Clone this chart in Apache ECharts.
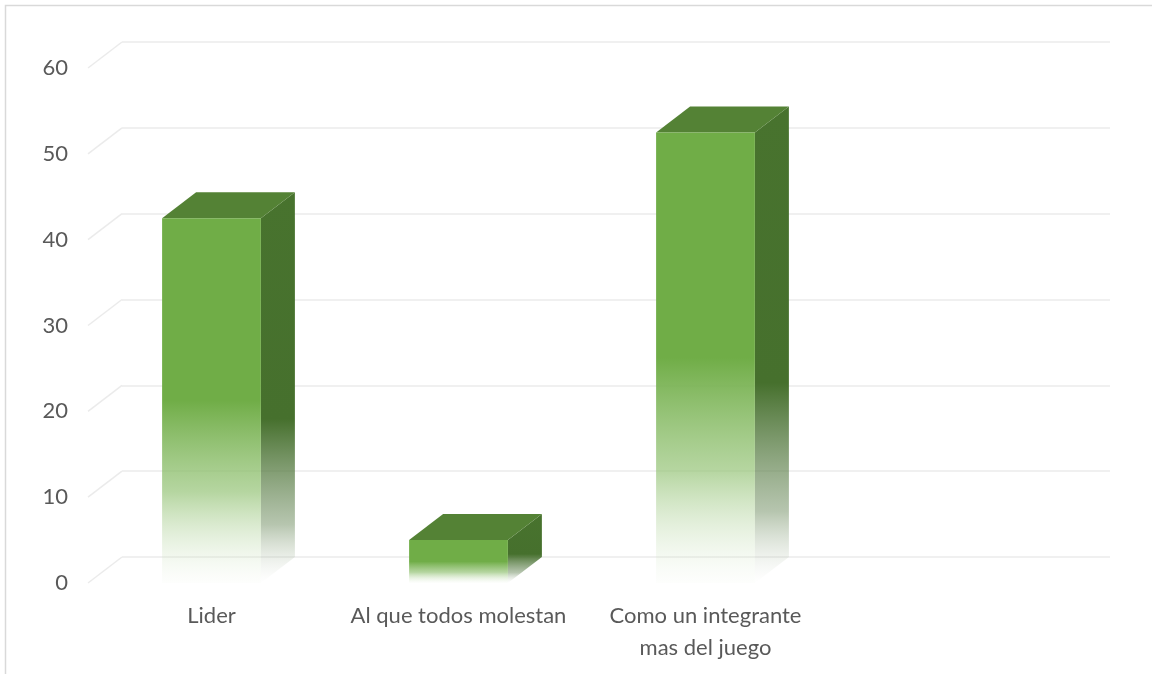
<!DOCTYPE html>
<html>
<head>
<meta charset="utf-8">
<script src="https://cdn.jsdelivr.net/npm/echarts@6/dist/echarts.min.js"></script>
<style>
html,body{margin:0;padding:0;background:#fff;}
#chart{width:1152px;height:674px;}
</style>
</head>
<body>
<div id="chart"></div>
<script>
// ---- data ----
const categories = ['Lider', 'Al que todos molestan', 'Como un integrante\nmas del juego', ''];
const values = [42.5, 5, 52.5];
const yTicks = [0, 10, 20, 30, 40, 50, 60];

// ---- style / geometry ----
const DX = 34;      // depth offset (x)
const DY = -26;     // depth offset (y)
const FONT = 'Lato';
const frontGrid = { left: 88, right: 76, top: 68, bottom: 91 };

const chart = echarts.init(document.getElementById('chart'));

const barData = values.map((v, i) => [i, v]);

const option = {
  animation: false,
  backgroundColor: '#ffffff',
  graphic: [{
    type: 'rect',
    shape: { x: 5.5, y: 5.5, width: 1200, height: 700 },
    style: { fill: 'none', stroke: '#D9D9D9', lineWidth: 1.5 },
    silent: true, z: -10
  }],
  grid: [
    { left: frontGrid.left, right: frontGrid.right, top: frontGrid.top, bottom: frontGrid.bottom },
    { left: frontGrid.left + DX, right: frontGrid.right - DX, top: frontGrid.top + DY, bottom: frontGrid.bottom - DY }
  ],
  xAxis: [
    {
      type: 'category', gridIndex: 0, data: categories,
      axisLine: { show: false }, axisTick: { show: false }, splitLine: { show: false },
      axisLabel: { color: '#595959', fontFamily: FONT, fontSize: 22, margin: 17, lineHeight: 32, interval: 0 }
    },
    {
      type: 'category', gridIndex: 1, data: categories, show: false
    }
  ],
  yAxis: [
    {
      type: 'value', gridIndex: 0, min: 0, max: 60, interval: 10,
      axisLine: { show: false }, axisTick: { show: false }, splitLine: { show: false },
      axisLabel: { color: '#595959', fontFamily: FONT, fontSize: 22, margin: 20 }
    },
    {
      type: 'value', gridIndex: 1, min: 0, max: 60, interval: 10,
      axisLine: { show: false }, axisTick: { show: false }, axisLabel: { show: false },
      splitLine: { show: true, lineStyle: { color: '#EBEBEB', width: 1.5 } }
    }
  ],
  series: [
    {
      // diagonal (side wall) gridlines
      type: 'custom', xAxisIndex: 0, yAxisIndex: 0, silent: true, z: 1,
      data: yTicks.map(t => [0, t]),
      renderItem: function (params, api) {
        const p = api.coord([0, api.value(1)]);
        const x = params.coordSys.x;
        return {
          type: 'line',
          shape: { x1: x, y1: p[1], x2: x + DX, y2: p[1] + DY },
          style: { stroke: '#EBEBEB', lineWidth: 1.5 }
        };
      }
    },
    {
      type: 'custom', xAxisIndex: 0, yAxisIndex: 0, z: 5,
      data: barData,
      renderItem: function (params, api) {
        const idx = api.value(0);
        const top = api.coord([idx, api.value(1)]);
        const base = api.coord([idx, 0]);
        const w = api.size([1, 0])[0] * 0.4;
        const x0 = top[0] - w / 2, x1 = top[0] + w / 2;
        const yt = top[1], yb = base[1];
        return {
          type: 'group',
          children: [
            {
              type: 'polygon',
              shape: { points: [[x1, yt], [x1 + DX, yt + DY], [x1 + DX, yb + DY], [x1, yb]] },
              style: {
                fill: new echarts.graphic.LinearGradient(0, 0, 0, 1, [
                  { offset: 0, color: 'rgba(72,115,46,1)' },
                  { offset: 0.58, color: 'rgba(70,112,45,1)' },
                  { offset: 0.85, color: 'rgba(110,140,95,0.5)' },
                  { offset: 1, color: 'rgba(200,210,195,0)' }
                ])
              }
            },
            {
              type: 'polygon',
              shape: { points: [[x0, yt], [x0 + DX, yt + DY], [x1 + DX, yt + DY], [x1, yt]] },
              style: { fill: '#548235' }
            },
            {
              type: 'rect',
              shape: { x: x0, y: yt, width: w, height: yb - yt },
              style: {
                fill: new echarts.graphic.LinearGradient(0, 0, 0, 1, [
                  { offset: 0, color: 'rgba(112,173,71,1)' },
                  { offset: 0.5, color: 'rgba(112,173,71,1)' },
                  { offset: 0.75, color: 'rgba(150,196,120,0.7)' },
                  { offset: 1, color: 'rgba(220,235,210,0.05)' }
                ])
              }
            }
          ]
        };
      }
    }
  ]
};

chart.setOption(option);
</script>
</body>
</html>
